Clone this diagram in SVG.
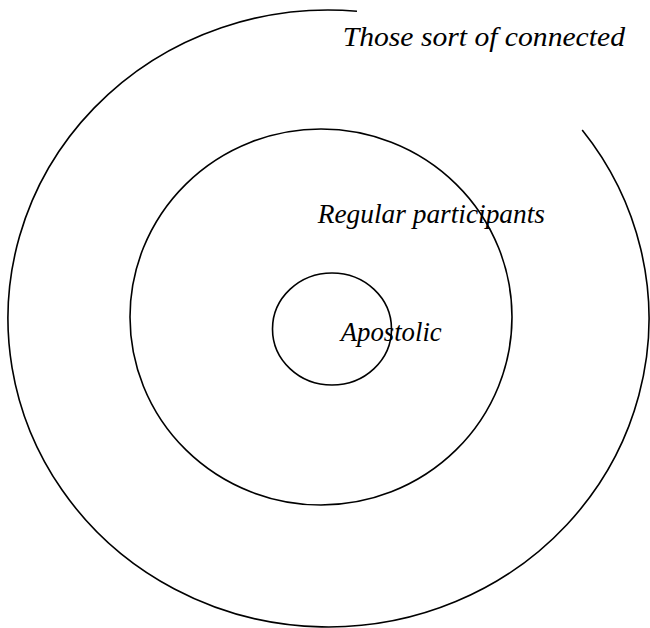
<svg xmlns="http://www.w3.org/2000/svg" width="650" height="628" viewBox="0 0 650 628">
  <style>
    .ring { fill: none; stroke: #000; stroke-width: 1.6; }
    .lbl { font-family: "Liberation Serif", "DejaVu Serif", serif; font-style: italic; font-size: 27px; fill: #000; }
  </style>
  <rect width="650" height="628" fill="#fff"/>
  <g id="outer">
    <path class="ring" d="M 357 11.2 A 320.5 308.5 0 1 0 582.2 130"/>
    <text class="lbl" x="342.7" y="46" textLength="282.3" lengthAdjust="spacingAndGlyphs">Those sort of connected</text>
  </g>
  <g id="middle">
    <ellipse class="ring" cx="321" cy="317" rx="191" ry="188"/>
    <text class="lbl" x="317.7" y="223" textLength="227.3" lengthAdjust="spacingAndGlyphs">Regular participants</text>
  </g>
  <g id="inner">
    <ellipse class="ring" cx="332" cy="329" rx="59.5" ry="56"/>
    <text class="lbl" x="340.7" y="341" textLength="101" lengthAdjust="spacingAndGlyphs">Apostolic</text>
  </g>
  <g id="connectors"/>
</svg>
